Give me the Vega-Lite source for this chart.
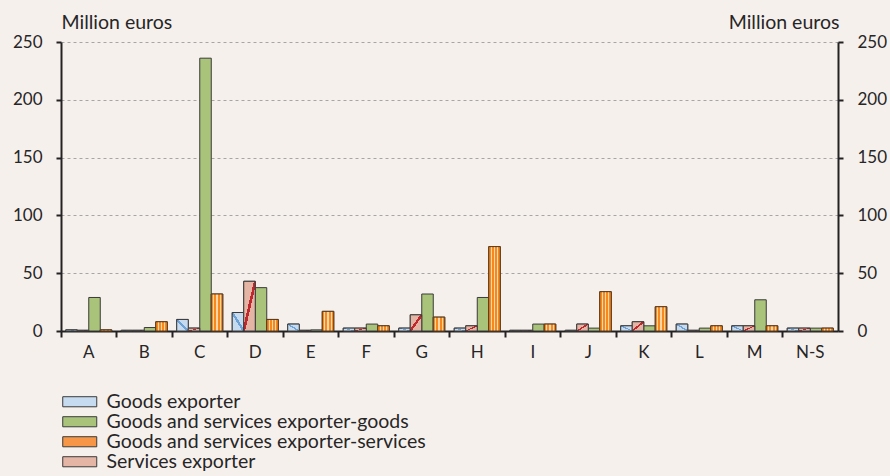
{
  "$schema": "https://vega.github.io/schema/vega-lite/v6.json",
  "width": 777,
  "height": 289,
  "autosize": "none",
  "padding": {"left": 61, "top": 42, "right": 52, "bottom": 145},
  "background": "#F6F0ED",
  "config": {
    "view": {"stroke": null},
    "font": "Lato",
    "axis": {"labelFont": "Lato", "titleFont": "Lato", "labelColor": "#262626", "titleColor": "#262626"},
    "legend": {"labelFont": "Lato"}
  },
  "data": {
    "values": [
      {"cat": "A", "series": "Goods exporter", "value": 1},
      {"cat": "A", "series": "Services exporter", "value": 0.6},
      {"cat": "A", "series": "Goods and services exporter-goods", "value": 29},
      {"cat": "A", "series": "Goods and services exporter-services", "value": 1},
      {"cat": "B", "series": "Goods exporter", "value": 0.6},
      {"cat": "B", "series": "Services exporter", "value": 0.6},
      {"cat": "B", "series": "Goods and services exporter-goods", "value": 3},
      {"cat": "B", "series": "Goods and services exporter-services", "value": 8},
      {"cat": "C", "series": "Goods exporter", "value": 10},
      {"cat": "C", "series": "Services exporter", "value": 2.5},
      {"cat": "C", "series": "Goods and services exporter-goods", "value": 236},
      {"cat": "C", "series": "Goods and services exporter-services", "value": 32},
      {"cat": "D", "series": "Goods exporter", "value": 16},
      {"cat": "D", "series": "Services exporter", "value": 43},
      {"cat": "D", "series": "Goods and services exporter-goods", "value": 37.5},
      {"cat": "D", "series": "Goods and services exporter-services", "value": 10},
      {"cat": "E", "series": "Goods exporter", "value": 6},
      {"cat": "E", "series": "Services exporter", "value": 0.6},
      {"cat": "E", "series": "Goods and services exporter-goods", "value": 1},
      {"cat": "E", "series": "Goods and services exporter-services", "value": 17},
      {"cat": "F", "series": "Goods exporter", "value": 2.5},
      {"cat": "F", "series": "Services exporter", "value": 2.5},
      {"cat": "F", "series": "Goods and services exporter-goods", "value": 6},
      {"cat": "F", "series": "Goods and services exporter-services", "value": 4.5},
      {"cat": "G", "series": "Goods exporter", "value": 2.5},
      {"cat": "G", "series": "Services exporter", "value": 14},
      {"cat": "G", "series": "Goods and services exporter-goods", "value": 32},
      {"cat": "G", "series": "Goods and services exporter-services", "value": 12},
      {"cat": "H", "series": "Goods exporter", "value": 2.5},
      {"cat": "H", "series": "Services exporter", "value": 4.5},
      {"cat": "H", "series": "Goods and services exporter-goods", "value": 29},
      {"cat": "H", "series": "Goods and services exporter-services", "value": 73},
      {"cat": "I", "series": "Goods exporter", "value": 0.6},
      {"cat": "I", "series": "Services exporter", "value": 0.6},
      {"cat": "I", "series": "Goods and services exporter-goods", "value": 6},
      {"cat": "I", "series": "Goods and services exporter-services", "value": 6},
      {"cat": "J", "series": "Goods exporter", "value": 0.6},
      {"cat": "J", "series": "Services exporter", "value": 6},
      {"cat": "J", "series": "Goods and services exporter-goods", "value": 2.5},
      {"cat": "J", "series": "Goods and services exporter-services", "value": 34},
      {"cat": "K", "series": "Goods exporter", "value": 4.5},
      {"cat": "K", "series": "Services exporter", "value": 8},
      {"cat": "K", "series": "Goods and services exporter-goods", "value": 4.5},
      {"cat": "K", "series": "Goods and services exporter-services", "value": 21},
      {"cat": "L", "series": "Goods exporter", "value": 6},
      {"cat": "L", "series": "Services exporter", "value": 0.6},
      {"cat": "L", "series": "Goods and services exporter-goods", "value": 2.5},
      {"cat": "L", "series": "Goods and services exporter-services", "value": 4.5},
      {"cat": "M", "series": "Goods exporter", "value": 4.5},
      {"cat": "M", "series": "Services exporter", "value": 4.5},
      {"cat": "M", "series": "Goods and services exporter-goods", "value": 27},
      {"cat": "M", "series": "Goods and services exporter-services", "value": 4.5},
      {"cat": "N-S", "series": "Goods exporter", "value": 2.5},
      {"cat": "N-S", "series": "Services exporter", "value": 2.5},
      {"cat": "N-S", "series": "Goods and services exporter-goods", "value": 2.5},
      {"cat": "N-S", "series": "Goods and services exporter-services", "value": 2.5}
    ]
  },
  "encoding": {
    "x": {
      "field": "cat", "type": "nominal", "sort": null,
      "scale": {"paddingInner": 0, "paddingOuter": 0},
      "axis": {
        "title": null, "labelAngle": 0, "bandPosition": 0,
        "domainColor": "#222222", "domainWidth": 2,
        "tickColor": "#222222", "tickWidth": 2, "tickSize": 6,
        "labelFontSize": 17, "labelPadding": 7, "grid": false
      }
    },
    "xOffset": {
      "field": "series", "type": "nominal",
      "scale": {
        "domain": ["Goods exporter", "Services exporter", "Goods and services exporter-goods", "Goods and services exporter-services"],
        "paddingInner": 0, "paddingOuter": 0.41
      }
    }
  },
  "layer": [
    {
      "mark": {"type": "bar", "stroke": "#3A3A3A", "strokeWidth": 1},
      "encoding": {
        "y": {
          "field": "value", "type": "quantitative",
          "scale": {"domain": [0, 250], "nice": false},
          "axis": {
            "orient": "left", "values": [0, 50, 100, 150, 200, 250],
            "grid": true, "gridDash": [3, 3], "gridColor": "#A6A6A6", "gridWidth": 1,
            "domainColor": "#222222", "domainWidth": 2,
            "tickColor": "#222222", "tickWidth": 2, "tickSize": 5,
            "labelFontSize": 17, "labelPadding": 14,
            "title": "Million euros", "titleAngle": 0, "titleAlign": "left",
            "titleX": 0, "titleY": -20, "titleBaseline": "middle",
            "titleFontWeight": "normal", "titleFontSize": 19.5
          }
        },
        "color": {
          "field": "series", "type": "nominal",
          "scale": {
            "domain": ["Goods exporter", "Goods and services exporter-goods", "Goods and services exporter-services", "Services exporter"],
            "range": ["#C6DBF0", "#A9C47A", "#F79646", "#E4B5A4"]
          },
          "legend": {
            "orient": "none", "legendX": 9, "legendY": 350, "direction": "vertical",
            "title": null, "padding": 0,
            "symbolType": "M-1.89,-0.56H1.89V0.56H-1.89Z", "symbolSize": 324,
            "symbolStrokeColor": "#3A3A3A", "symbolStrokeWidth": 1, "symbolOpacity": 1,
            "labelFontSize": 19.5, "labelColor": "#262626", "labelOffset": 17,
            "rowPadding": -1, "labelLimit": 500
          }
        }
      }
    },
    {
      "transform": [{"filter": "datum.series === 'Goods exporter'"}],
      "mark": {
        "type": "bar", "stroke": "#3A3A3A", "strokeWidth": 1,
        "fill": {
          "gradient": "linear", "x1": 0, "y1": 1, "x2": 1, "y2": 0,
          "stops": [
            {"offset": 0, "color": "#C6DBF0"}, {"offset": 0.44, "color": "#C6DBF0"},
            {"offset": 0.44, "color": "#6FA3D6"}, {"offset": 0.56, "color": "#6FA3D6"},
            {"offset": 0.56, "color": "#C6DBF0"}, {"offset": 1, "color": "#C6DBF0"}
          ]
        }
      },
      "encoding": {"y": {"field": "value", "type": "quantitative", "axis": null}}
    },
    {
      "transform": [{"filter": "datum.series === 'Services exporter'"}],
      "mark": {
        "type": "bar", "stroke": "#3A3A3A", "strokeWidth": 1,
        "fill": {
          "gradient": "linear", "x1": 0, "y1": 0, "x2": 1, "y2": 1,
          "stops": [
            {"offset": 0, "color": "#E4B5A4"}, {"offset": 0.44, "color": "#E4B5A4"},
            {"offset": 0.44, "color": "#C0282D"}, {"offset": 0.56, "color": "#C0282D"},
            {"offset": 0.56, "color": "#E4B5A4"}, {"offset": 1, "color": "#E4B5A4"}
          ]
        }
      },
      "encoding": {"y": {"field": "value", "type": "quantitative", "axis": null}}
    },
    {
      "transform": [{"filter": "datum.series === 'Goods and services exporter-services'"}],
      "mark": {
        "type": "bar", "stroke": "#5A3A1A", "strokeWidth": 1,
        "fill": {
          "gradient": "linear", "x1": 0, "y1": 0, "x2": 1, "y2": 0,
          "stops": [
            {"offset": 0, "color": "#F5891E"}, {"offset": 0.16, "color": "#F5891E"},
            {"offset": 0.16, "color": "#FCD5A8"}, {"offset": 0.28, "color": "#FCD5A8"},
            {"offset": 0.28, "color": "#F5891E"}, {"offset": 0.44, "color": "#F5891E"},
            {"offset": 0.44, "color": "#FCD5A8"}, {"offset": 0.56, "color": "#FCD5A8"},
            {"offset": 0.56, "color": "#F5891E"}, {"offset": 0.72, "color": "#F5891E"},
            {"offset": 0.72, "color": "#FCD5A8"}, {"offset": 0.84, "color": "#FCD5A8"},
            {"offset": 0.84, "color": "#F5891E"}, {"offset": 1, "color": "#F5891E"}
          ]
        }
      },
      "encoding": {
        "y": {
          "field": "value", "type": "quantitative",
          "axis": {
            "orient": "right", "values": [0, 50, 100, 150, 200, 250],
            "grid": false,
            "domainColor": "#222222", "domainWidth": 2,
            "tickColor": "#222222", "tickWidth": 2, "tickSize": 5,
            "labelFontSize": 17, "labelPadding": 14,
            "title": "Million euros", "titleAngle": 0, "titleAlign": "right",
            "titleX": 1, "titleY": -20, "titleBaseline": "middle",
            "titleFontWeight": "normal", "titleFontSize": 19.5
          }
        }
      }
    }
  ],
  "resolve": {"axis": {"y": "independent"}}
}
